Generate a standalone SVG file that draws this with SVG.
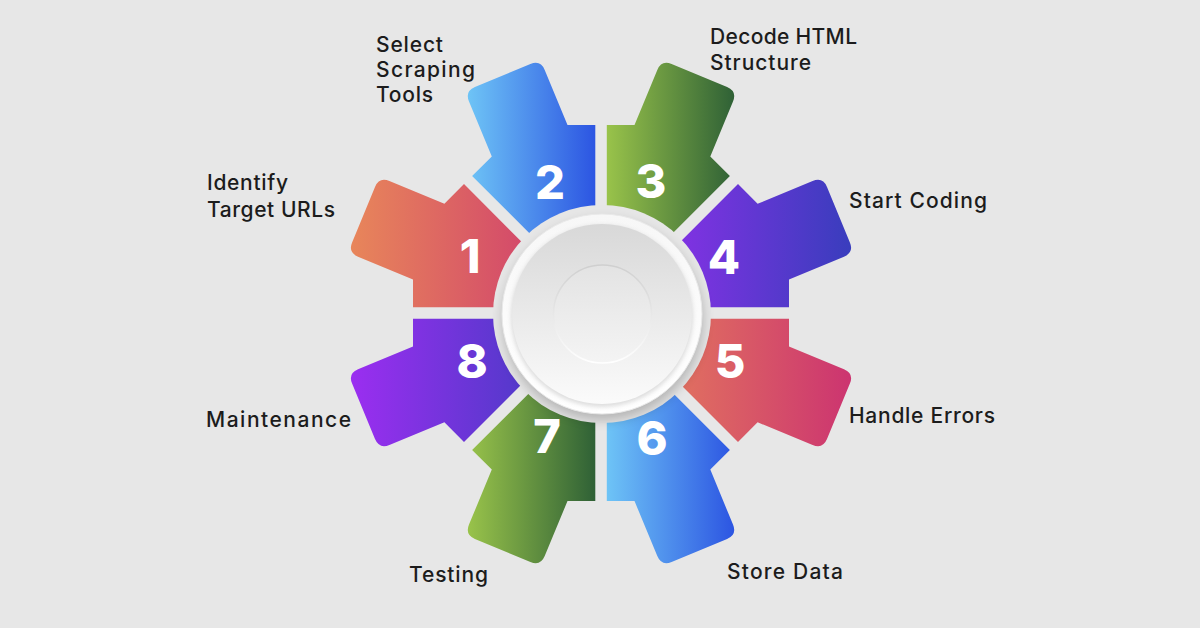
<svg xmlns="http://www.w3.org/2000/svg" width="1200" height="628" viewBox="0 0 1200 628">
<defs>
<linearGradient id="gOrange" x1="0" y1="0" x2="1" y2="0"><stop offset="0" stop-color="#e8865a"/><stop offset="1" stop-color="#cc3470"/></linearGradient>
<linearGradient id="gBlue" x1="0" y1="0" x2="1" y2="0"><stop offset="0" stop-color="#6ec4f6"/><stop offset="1" stop-color="#2c55e2"/></linearGradient>
<linearGradient id="gGreen" x1="0" y1="0" x2="1" y2="0"><stop offset="0" stop-color="#99c34a"/><stop offset="1" stop-color="#2f6136"/></linearGradient>
<linearGradient id="gPurple" x1="0" y1="0" x2="1" y2="0"><stop offset="0" stop-color="#9b2ef0"/><stop offset="1" stop-color="#393dbd"/></linearGradient>
<linearGradient id="rim" x1="0" y1="0" x2="0" y2="1"><stop offset="0" stop-color="#f7f7f7"/><stop offset="1" stop-color="#ffffff"/></linearGradient>
<linearGradient id="face" x1="0" y1="0" x2="0" y2="1"><stop offset="0" stop-color="#d8d8d8"/><stop offset="1" stop-color="#fbfbfb"/></linearGradient>
<linearGradient id="inner" x1="0" y1="0" x2="0" y2="1"><stop offset="0" stop-color="#e3e3e3"/><stop offset="1" stop-color="#f4f4f4"/></linearGradient>
<linearGradient id="innerStroke" x1="0" y1="0" x2="0" y2="1"><stop offset="0" stop-color="#cfcfcf"/><stop offset="1" stop-color="#ffffff"/></linearGradient>
<filter id="blur" x="-30%" y="-30%" width="160%" height="160%"><feGaussianBlur stdDeviation="6"/></filter>
<filter id="blurS" x="-30%" y="-30%" width="160%" height="160%"><feGaussianBlur stdDeviation="2"/></filter>
</defs>
<style>
.lbl{font-family:"Inter","Noto Sans","Liberation Sans",sans-serif;font-size:21px;font-weight:500;fill:#1c1c1c}
.num{font-family:"Inter","Noto Sans","Liberation Sans",sans-serif;font-size:47px;font-weight:800;fill:#ffffff;text-anchor:middle}
</style>
<rect width="1200" height="628" fill="#e7e7e7"/>

<g id="step1">
<path fill="url(#gOrange)" d="M587.1,307.3 L413,307.3 L413,279.5 L358,256.7 Q347.9,252.5 352.1,242.4 L375,186.9 Q379.3,176.8 389.4,181 L444.4,203.8 L464,184.1 Z"/>
<text class="num" x="470" y="273">1</text>
<text class="lbl" x="207" y="190" textLength="81" lengthAdjust="spacing">Identify</text>
<text class="lbl" x="207" y="217" textLength="128" lengthAdjust="spacing">Target URLs</text>
</g>
<g id="step2">
<path fill="url(#gBlue)" d="M595.3,299.1 L595.3,125 L567.5,125 L544.7,70 Q540.5,59.9 530.4,64.1 L474.9,87 Q464.8,91.3 469,101.4 L491.8,156.4 L472.1,176 Z"/>
<text class="num" x="550" y="199">2</text>
<text class="lbl" x="376" y="51.5" textLength="67" lengthAdjust="spacing">Select</text>
<text class="lbl" x="376" y="76.5" textLength="99" lengthAdjust="spacing">Scraping</text>
<text class="lbl" x="376" y="101.5" textLength="57" lengthAdjust="spacing">Tools</text>
</g>
<g id="step3">
<path fill="url(#gGreen)" d="M606.8,299.1 L606.8,125 L634.5,125 L657.3,70 Q661.5,59.9 671.6,64.1 L727.1,87 Q737.2,91.3 733,101.4 L710.3,156.4 L729.9,176 Z"/>
<text class="num" x="651" y="198">3</text>
<text class="lbl" x="710" y="44" textLength="147" lengthAdjust="spacing">Decode HTML</text>
<text class="lbl" x="710" y="70" textLength="101" lengthAdjust="spacing">Structure</text>
</g>
<g id="step4">
<path fill="url(#gPurple)" d="M614.9,307.3 L789,307.3 L789,279.5 L844,256.7 Q854.1,252.5 849.9,242.4 L827,186.9 Q822.8,176.8 812.6,181 L757.6,203.8 L738,184.1 Z"/>
<text class="num" x="724" y="274">4</text>
<text class="lbl" x="849" y="207.5" textLength="138" lengthAdjust="spacing">Start Coding</text>
</g>
<g id="step5">
<path fill="url(#gOrange)" d="M614.9,318.8 L789,318.8 L789,346.5 L844,369.3 Q854.1,373.5 849.9,383.6 L827,439.1 Q822.8,449.2 812.6,445 L757.6,422.3 L738,441.9 Z"/>
<text class="num" x="730" y="378">5</text>
<text class="lbl" x="849" y="422.5" textLength="146" lengthAdjust="spacing">Handle Errors</text>
</g>
<g id="step6">
<path fill="url(#gBlue)" d="M606.8,326.9 L606.8,501 L634.5,501 L657.3,556 Q661.5,566.1 671.6,561.9 L727.1,539 Q737.2,534.8 733,524.6 L710.3,469.6 L729.9,450 Z"/>
<text class="num" x="652" y="454.5">6</text>
<text class="lbl" x="727" y="578.5" textLength="116" lengthAdjust="spacing">Store Data</text>
</g>
<g id="step7">
<path fill="url(#gGreen)" d="M595.3,326.9 L595.3,501 L567.5,501 L544.7,556 Q540.5,566.1 530.4,561.9 L474.9,539 Q464.8,534.8 469,524.6 L491.8,469.6 L472.1,450 Z"/>
<text class="num" x="547" y="453">7</text>
<text class="lbl" x="409" y="581.5" textLength="79" lengthAdjust="spacing">Testing</text>
</g>
<g id="step8">
<path fill="url(#gPurple)" d="M587.1,318.8 L413,318.8 L413,346.5 L358,369.3 Q347.9,373.5 352.1,383.6 L375,439.1 Q379.3,449.2 389.4,445 L444.4,422.3 L464,441.9 Z"/>
<text class="num" x="472" y="378">8</text>
<text class="lbl" x="206" y="426.5" textLength="145" lengthAdjust="spacing">Maintenance</text>
</g>

<g id="hub">
<circle cx="602" cy="314" r="109" fill="#e6e6e6"/>
<circle cx="603" cy="320" r="100" fill="#000000" opacity="0.22" filter="url(#blur)"/>
<circle cx="602" cy="314" r="100" fill="url(#rim)" stroke="#e9e9e9" stroke-width="1"/>
<circle cx="602" cy="316" r="91" fill="#bdbdbd" opacity="0.5" filter="url(#blurS)"/>
<circle cx="602" cy="314" r="90" fill="url(#face)"/>
<circle cx="602.5" cy="314" r="49" fill="url(#inner)" stroke="url(#innerStroke)" stroke-width="1.5"/>
</g>
</svg>
